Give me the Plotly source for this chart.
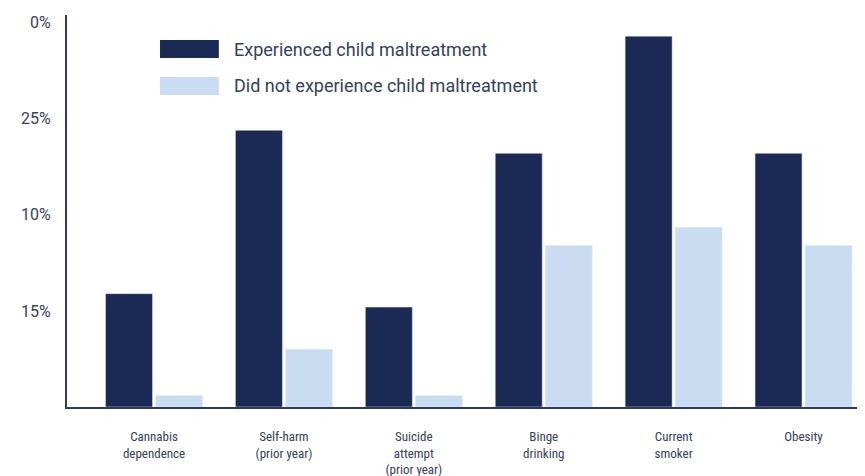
import plotly.graph_objects as go

categories = ["Cannabis<br>dependence", "Self-harm<br>(prior year)", "Suicide<br>attempt<br>(prior year)",
              "Binge<br>drinking", "Current<br>smoker", "Obesity"]
experienced = [5.9, 14.4, 5.2, 13.2, 19.3, 13.2]
not_experienced = [0.6, 3.0, 0.6, 8.4, 9.35, 8.4]
y_tickvals = [5, 10, 15, 20]
y_ticktext = ["15%", "10%", "25%", "0%"]

dark = "#1b2a55"
light = "#cadcf1"
text_col = "#34405e"

x = list(range(len(categories)))

fig = go.Figure()
fig.add_trace(go.Bar(x=x, y=experienced, name="Experienced child maltreatment",
                     marker_color=dark))
fig.add_trace(go.Bar(x=x, y=not_experienced, name="Did not experience child maltreatment",
                     marker_color=light))

# margins offset by the 8px page margin so the plot area lands where the reference has it
fig.update_layout(
    width=865, height=476,
    margin=dict(l=59, r=11, t=7, b=77),
    plot_bgcolor="white", paper_bgcolor="white",
    barmode="group", bargap=0.23, bargroupgap=0.06,
    showlegend=False,
    font=dict(family="Roboto", color=text_col),
)
fig.update_xaxes(range=[-0.67, 5.45], tickvals=x, ticktext=categories,
                 tickfont=dict(size=13, color=text_col,
                               family="Roboto Condensed, Liberation Sans Narrow, Roboto"),
                 showgrid=False,
                 showline=True, linecolor="#2d3b63", linewidth=2,
                 ticks="", ticklabelstandoff=16, automargin=False)
fig.update_yaxes(range=[0, 20.4], tickvals=y_tickvals, ticktext=y_ticktext,
                 tickfont=dict(size=16, color=text_col), showgrid=False,
                 zeroline=False, showline=True, linecolor="#2d3b63", linewidth=2,
                 ticks="", ticklabelstandoff=11, automargin=False)

# hand-drawn legend
legend_items = [("Experienced child maltreatment", dark, 0.913),
                ("Did not experience child maltreatment", light, 0.819)]
for label, col, yp in legend_items:
    fig.add_shape(type="rect", xref="paper", yref="paper",
                  x0=0.117, x1=0.191, y0=yp - 0.023, y1=yp + 0.023,
                  fillcolor=col, line_width=0)
    fig.add_annotation(xref="paper", yref="paper", x=0.207, y=yp,
                       text=label, showarrow=False, xanchor="left", yanchor="middle",
                       font=dict(size=18, color=text_col))

fig.write_html("out.html")
